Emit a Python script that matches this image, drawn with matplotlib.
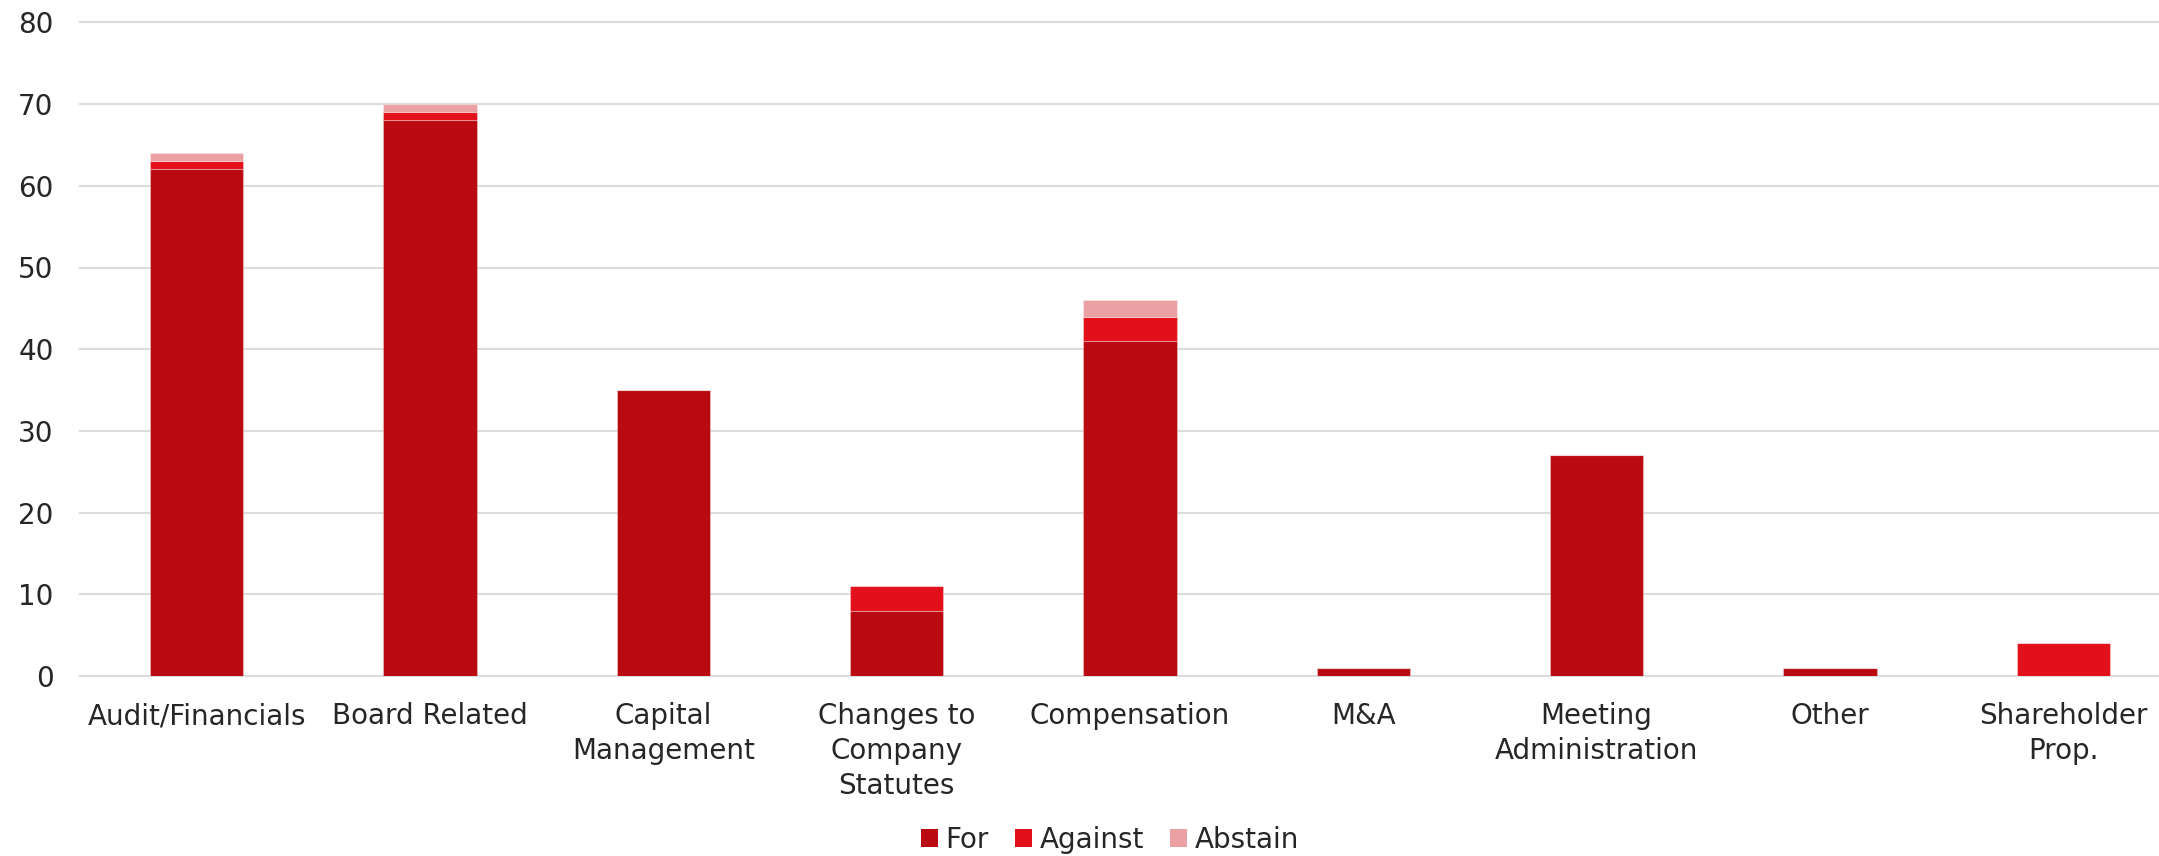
import matplotlib
matplotlib.use("Agg")
import matplotlib.pyplot as plt
import numpy as np
from matplotlib.patches import Patch

categories = [
    "Audit/Financials",
    "Board Related",
    "Capital\nManagement",
    "Changes to\nCompany\nStatutes",
    "Compensation",
    "M&A",
    "Meeting\nAdministration",
    "Other",
    "Shareholder\nProp.",
]
votes_for = [62, 68, 35, 8, 41, 1, 27, 1, 0]
votes_against = [1, 1, 0, 3, 3, 0, 0, 0, 4]
votes_abstain = [1, 1, 0, 0, 2, 0, 0, 0, 0]
series_names = ["For", "Against", "Abstain"]
y_ticks = [0, 10, 20, 30, 40, 50, 60, 70, 80]

colors = ["#B80A10", "#E1101A", "#EBA1A3"]
grid_color = "#DCDCDC"
text_color = "#262626"

plt.rcParams["font.family"] = ["DejaVu Sans"]
FS = 20

W, H = 2159, 856
fig = plt.figure(figsize=(W / 100, H / 100), dpi=100)
ax = fig.add_axes([80 / W, 1 - 676 / H, 2100 / W, (676 - 22.4) / H])

x = np.arange(len(categories))
bottom = np.zeros(len(categories))
for vals, col in zip([votes_for, votes_against, votes_abstain], colors):
    v = np.array(vals, dtype=float)
    ax.bar(x, v, width=0.4, bottom=bottom, color=col,
           edgecolor=(1, 1, 1, 0.3), linewidth=0.8, zorder=3)
    bottom += v

ax.set_xlim(-0.5, len(categories) - 0.5)
ax.set_ylim(0, 80)
ax.set_yticks(y_ticks)
ax.set_xticks(x)
ax.set_xticklabels(categories, fontsize=FS, color=text_color, linespacing=1.3)
ax.tick_params(axis="x", length=0, pad=19)
ax.tick_params(axis="y", length=0, pad=19, labelsize=FS, labelcolor=text_color)

ax.grid(axis="y", color=grid_color, linewidth=1.5, zorder=0)
for gl in ax.get_ygridlines():
    gl.set_clip_on(False)
for s in ax.spines.values():
    s.set_visible(False)

handles = [Patch(facecolor=c, edgecolor="none") for c in colors]
fig.legend(handles, series_names, loc="center", bbox_to_anchor=(1110 / W, 1 - 840 / H),
           ncol=3, frameon=False, fontsize=FS, handlelength=0.6, handleheight=0.6,
           handletextpad=0.28, columnspacing=0.95, labelcolor=text_color)

fig.savefig("out.png", dpi=100)
